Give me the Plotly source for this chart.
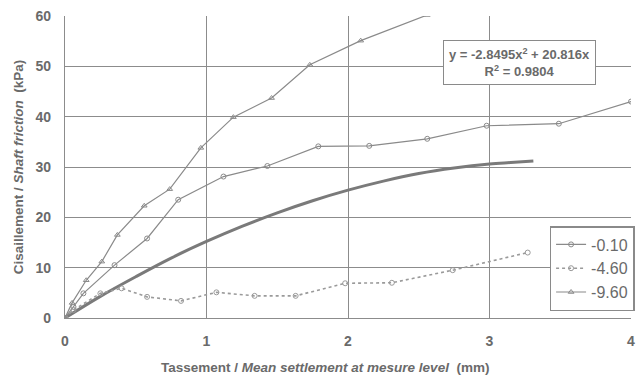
import plotly.graph_objects as go

# Settlement (mm) vs shaft friction (kPa) at three measuring levels
s_010 = [0, 0.06, 0.13, 0.35, 0.58, 0.80, 1.12, 1.43, 1.79, 2.15, 2.56, 2.98, 3.49, 4.00]
q_010 = [0, 2.2, 4.9, 10.5, 15.8, 23.5, 28.1, 30.2, 34.1, 34.2, 35.6, 38.2, 38.6, 43.0]

s_460 = [0, 0.06, 0.25, 0.40, 0.58, 0.82, 1.07, 1.34, 1.63, 1.98, 2.31, 2.74, 3.27]
q_460 = [0, 1.6, 4.9, 5.9, 4.2, 3.4, 5.1, 4.4, 4.4, 6.9, 7.0, 9.5, 13.0]

s_960 = [0, 0.05, 0.15, 0.26, 0.37, 0.56, 0.74, 0.96, 1.19, 1.46, 1.73, 2.09, 2.56]
q_960 = [0, 3.0, 7.5, 11.2, 16.5, 22.3, 25.6, 33.8, 39.9, 43.7, 50.3, 55.1, 60.2]

# Polynomial trend curve
trend_s = [0, 0.25, 0.5, 0.75, 1.0, 1.25, 1.5, 1.75, 2.0, 2.25, 2.5, 2.75, 3.0, 3.15, 3.31]
trend_q = [0, 4.3, 8.2, 11.9, 15.2, 18.2, 20.9, 23.3, 25.4, 27.2, 28.7, 29.8, 30.6, 30.9, 31.2]

x_ticks = [0, 1, 2, 3, 4]
y_ticks = [0, 10, 20, 30, 40, 50, 60]

grey = "#8a8a8a"
txt = "#6a6a6a"
font = "Liberation Sans, Arial, sans-serif"

fig = go.Figure()

fig.add_trace(go.Scatter(
    x=trend_s, y=trend_q, mode="lines", showlegend=False,
    line=dict(color="#7a7a7a", width=3, shape="spline"), hoverinfo="skip"))

fig.add_trace(go.Scatter(
    x=s_010, y=q_010, mode="lines+markers", name="-0.10",
    line=dict(color=grey, width=1.2),
    marker=dict(symbol="circle-open", size=5, color=grey, line=dict(width=1))))

fig.add_trace(go.Scatter(
    x=s_460, y=q_460, mode="lines+markers", name="-4.60",
    line=dict(color="#9a9a9a", width=1.6, dash="dot"),
    marker=dict(symbol="circle-open", size=5, color="#9a9a9a", line=dict(width=1))))

fig.add_trace(go.Scatter(
    x=s_960, y=q_960, mode="lines+markers", name="-9.60",
    line=dict(color=grey, width=1.2),
    marker=dict(symbol="triangle-up-open", size=5, color=grey, line=dict(width=1))))

# Trend equation box
fig.add_annotation(
    xref="paper", yref="paper", x=(523 - 65) / 570, y=(318 - 62) / 302,
    xanchor="center", yanchor="middle",
    showarrow=False, align="center",
    text="<b>y = -2.8495x<sup>2</sup> + 20.816x<br>R<sup>2</sup> = 0.9804</b>",
    font=dict(family=font, size=13, color=txt),
    bgcolor="white", bordercolor="#8a8a8a", borderwidth=1, borderpad=5)

# X axis title, set slightly left of the axis centre
fig.add_annotation(
    xref="paper", yref="paper", x=(327 - 65) / 570, y=(318 - 367) / 302,
    xanchor="center", yanchor="middle", showarrow=False,
    text="<b>Tassement / <i>Mean settlement at mesure level</i>  (mm)</b>",
    font=dict(family=font, size=13.5, color=txt))

fig.update_layout(
    width=640, height=377,
    margin=dict(l=65, r=5, t=16, b=59),
    paper_bgcolor="white", plot_bgcolor="white",
    font=dict(family=font, color=txt),
    showlegend=True,
    legend=dict(
        x=(553 - 65) / 570, y=(318 - 226) / 302, xanchor="left", yanchor="top",
        bgcolor="white", bordercolor="#8a8a8a", borderwidth=1.5,
        font=dict(family=font, size=16, color=txt),
        itemwidth=30, tracegroupgap=2),
    xaxis=dict(
        range=[0, 4], tickvals=x_ticks, ticktext=[str(v) for v in x_ticks],
        showgrid=True, gridcolor="#8c8c8c", gridwidth=1.3,
        showline=True, linecolor="#8c8c8c", linewidth=1.3, mirror=False,
        zeroline=False, ticks="outside", ticklen=0, ticklabelstandoff=10,
        tickfont=dict(family=font, size=14, color=txt, weight="bold")),
    yaxis=dict(
        range=[0, 60], tickvals=y_ticks, ticktext=[str(v) for v in y_ticks],
        showgrid=True, gridcolor="#8c8c8c", gridwidth=1.3,
        showline=True, linecolor="#8c8c8c", linewidth=1.3,
        zeroline=False, ticks="outside", ticklen=0, ticklabelstandoff=10,
        tickfont=dict(family=font, size=14, color=txt, weight="bold"),
        title=dict(text="<b>Cisaillement / <i>Shaft friction</i>  (kPa)</b>",
                   font=dict(family=font, size=13.5, color=txt), standoff=8)),
)

fig.write_html("out.html")
